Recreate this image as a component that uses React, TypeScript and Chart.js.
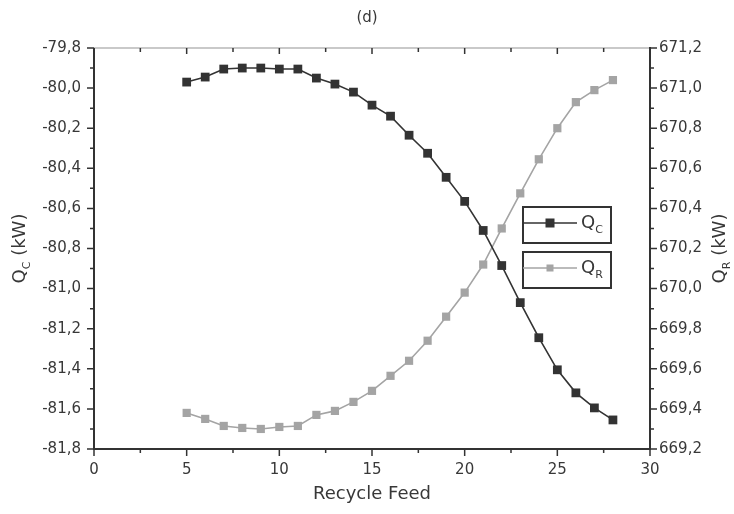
import React, { useEffect, useRef } from 'react';
import { Chart, registerables } from 'chart.js';
Chart.register(...registerables);

const recycleFeed = [5, 6, 7, 8, 9, 10, 11, 12, 13, 14, 15, 16, 17, 18, 19, 20, 21, 22, 23, 24, 25, 26, 27, 28];
const qC = [-79.97, -79.945, -79.905, -79.9, -79.9, -79.905, -79.905, -79.95, -79.98, -80.02, -80.085, -80.14, -80.235, -80.325, -80.445, -80.565, -80.71, -80.885, -81.07, -81.245, -81.405, -81.52, -81.595, -81.655];
const qR = [669.38, 669.35, 669.315, 669.305, 669.3, 669.31, 669.315, 669.37, 669.39, 669.435, 669.49, 669.565, 669.64, 669.74, 669.86, 669.98, 670.12, 670.3, 670.475, 670.645, 670.8, 670.93, 670.99, 671.04];

const xTickLabels = ['0', '5', '10', '15', '20', '25', '30'];
const leftTickLabels = ['-81,8', '-81,6', '-81,4', '-81,2', '-81,0', '-80,8', '-80,6', '-80,4', '-80,2', '-80,0', '-79,8'];
const rightTickLabels = ['669,2', '669,4', '669,6', '669,8', '670,0', '670,2', '670,4', '670,6', '670,8', '671,0', '671,2'];

const chartTitle = '(d)';
const xTitle = 'Recycle Feed';
const seriesNames: [string, string][] = [['Q', 'C'], ['Q', 'R']];

const FONT = '"DejaVu Sans", "Liberation Sans", Arial, sans-serif';
const TEXT = '#383838';
const DARK = '#333333';
const LIGHT = '#a4a4a4';

function drawSubText(ctx: CanvasRenderingContext2D, base: string, sub: string, rest: string, x: number, y: number, size: number, align: 'left' | 'center') {
  ctx.textBaseline = 'middle';
  ctx.textAlign = 'left';
  const big = `${size}px ${FONT}`;
  const small = `${Math.round(size * 0.62)}px ${FONT}`;
  ctx.font = big;
  const wb = ctx.measureText(base).width;
  const wr = ctx.measureText(rest).width;
  ctx.font = small;
  const ws = ctx.measureText(sub).width;
  const total = wb + ws + wr;
  const sx = align === 'center' ? x - total / 2 : x;
  ctx.font = big;
  ctx.fillText(base, sx, y);
  ctx.font = small;
  ctx.fillText(sub, sx + wb, y + size * 0.38);
  ctx.font = big;
  ctx.fillText(rest, sx + wb + ws, y);
}

const decorPlugin = {
  id: 'decor',
  afterDraw(chart: any) {
    const ctx: CanvasRenderingContext2D = chart.ctx;
    const a = chart.chartArea;
    const xs = chart.scales.x;
    const yl = chart.scales.y;
    const yr = chart.scales.y2;
    ctx.save();
    ctx.strokeStyle = '#c9c9c9';
    ctx.lineWidth = 2;
    ctx.beginPath();
    ctx.moveTo(a.left, a.top);
    ctx.lineTo(a.right, a.top);
    ctx.stroke();
    ctx.strokeStyle = DARK;
    ctx.lineWidth = 2;
    ctx.beginPath();
    ctx.moveTo(a.left, a.top);
    ctx.lineTo(a.left, a.bottom);
    ctx.lineTo(a.right, a.bottom);
    ctx.lineTo(a.right, a.top - 1);
    ctx.stroke();
    ctx.lineWidth = 1.5;
    ctx.strokeStyle = DARK;
    const xt = xs.ticks.map((t: any) => t.value);
    ctx.beginPath();
    xt.forEach((v: number, i: number) => {
      const p = xs.getPixelForValue(v);
      ctx.moveTo(p, a.bottom); ctx.lineTo(p, a.bottom + 7);
      ctx.moveTo(p, a.top); ctx.lineTo(p, a.top + 6);
      if (i < xt.length - 1) {
        const m = xs.getPixelForValue((v + xt[i + 1]) / 2);
        ctx.moveTo(m, a.bottom); ctx.lineTo(m, a.bottom + 4);
        ctx.moveTo(m, a.top); ctx.lineTo(m, a.top + 4);
      }
    });
    const ylt = yl.ticks.map((t: any) => t.value);
    ylt.forEach((v: number, i: number) => {
      const p = yl.getPixelForValue(v);
      ctx.moveTo(a.left - 7, p); ctx.lineTo(a.left, p);
      if (i < ylt.length - 1) {
        const m = yl.getPixelForValue((v + ylt[i + 1]) / 2);
        ctx.moveTo(a.left - 4, m); ctx.lineTo(a.left, m);
      }
    });
    const yrt = yr.ticks.map((t: any) => t.value);
    yrt.forEach((v: number, i: number) => {
      const p = yr.getPixelForValue(v);
      ctx.moveTo(a.right, p); ctx.lineTo(a.right + 7, p);
      if (i < yrt.length - 1) {
        const m = yr.getPixelForValue((v + yrt[i + 1]) / 2);
        ctx.moveTo(a.right, m); ctx.lineTo(a.right + 4, m);
      }
    });
    ctx.stroke();

    ctx.fillStyle = TEXT;
    ctx.textAlign = 'center';
    ctx.textBaseline = 'middle';
    ctx.font = `15px ${FONT}`;
    ctx.fillText(chartTitle, chart.width / 2, 18);
    ctx.font = `18px ${FONT}`;
    ctx.fillText(xTitle, (a.left + a.right) / 2, 494);

    const midY = (a.top + a.bottom) / 2;
    ctx.save();
    ctx.translate(20, midY);
    ctx.rotate(-Math.PI / 2);
    drawSubText(ctx, seriesNames[0][0], seriesNames[0][1], ' (kW)', 0, 0, 18, 'center');
    ctx.restore();
    ctx.save();
    ctx.translate(720, midY);
    ctx.rotate(-Math.PI / 2);
    drawSubText(ctx, seriesNames[1][0], seriesNames[1][1], ' (kW)', 0, 0, 18, 'center');
    ctx.restore();

    const boxes = [
      { y: 207, color: DARK, size: 9, lw: 1.5 },
      { y: 252, color: LIGHT, size: 7, lw: 1.5 },
    ];
    boxes.forEach((b, i) => {
      const bx = 523, bw = 88, bh = 36;
      ctx.strokeStyle = DARK;
      ctx.lineWidth = 2;
      ctx.strokeRect(bx, b.y, bw, bh);
      const cy = b.y + 16;
      ctx.strokeStyle = b.color;
      ctx.lineWidth = b.lw;
      ctx.beginPath();
      ctx.moveTo(bx, cy);
      ctx.lineTo(bx + 54, cy);
      ctx.stroke();
      ctx.fillStyle = b.color;
      ctx.fillRect(bx + 27 - b.size / 2, cy - b.size / 2, b.size, b.size);
      ctx.fillStyle = TEXT;
      drawSubText(ctx, seriesNames[i][0], seriesNames[i][1], '', bx + 58, cy, 18, 'left');
    });
    ctx.restore();
  },
};

export default function App() {
  const ref = useRef<HTMLCanvasElement | null>(null);
  useEffect(() => {
    if (!ref.current) return;
    const tickFont = { family: FONT, size: 15 };
    const chart = new Chart(ref.current, {
      type: 'scatter',
      data: {
        datasets: [
          {
            label: 'Q_C',
            data: recycleFeed.map((x, i) => ({ x, y: qC[i] })),
            yAxisID: 'y',
            showLine: true,
            borderColor: DARK,
            backgroundColor: DARK,
            pointBackgroundColor: DARK,
            pointBorderColor: DARK,
            pointStyle: 'rect',
            pointRadius: 6.2,
            pointBorderWidth: 0,
            borderWidth: 1.6,
          },
          {
            label: 'Q_R',
            data: recycleFeed.map((x, i) => ({ x, y: qR[i] })),
            yAxisID: 'y2',
            showLine: true,
            borderColor: LIGHT,
            backgroundColor: LIGHT,
            pointBackgroundColor: LIGHT,
            pointBorderColor: LIGHT,
            pointStyle: 'rect',
            pointRadius: 5.8,
            pointBorderWidth: 0,
            borderWidth: 1.6,
          },
        ],
      },
      options: {
        responsive: false,
        animation: false,
        layout: { padding: { top: 48, left: 0, right: 0, bottom: 0 } },
        plugins: { legend: { display: false }, tooltip: { enabled: false }, title: { display: false } },
        scales: {
          x: {
            type: 'linear',
            min: 0,
            max: 30,
            grid: { display: false, drawTicks: false },
            border: { display: false },
            ticks: {
              stepSize: 5,
              padding: 12,
              color: TEXT,
              font: tickFont,
              maxRotation: 0,
              callback: (_v: any, i: number) => xTickLabels[i],
            },
            afterFit: (s: any) => { s.height = 65; },
          },
          y: {
            type: 'linear',
            position: 'left',
            min: -81.8,
            max: -79.8,
            grid: { display: false, drawTicks: false },
            border: { display: false },
            ticks: {
              stepSize: 0.2,
              padding: 13,
              color: TEXT,
              font: tickFont,
              callback: (_v: any, i: number) => leftTickLabels[i],
            },
            afterFit: (s: any) => { s.width = 94; },
          },
          y2: {
            type: 'linear',
            position: 'right',
            min: 669.2,
            max: 671.2,
            grid: { display: false, drawTicks: false },
            border: { display: false },
            ticks: {
              stepSize: 0.2,
              padding: 9,
              color: TEXT,
              font: tickFont,
              callback: (_v: any, i: number) => rightTickLabels[i],
            },
            afterFit: (s: any) => { s.width = 84; },
          },
        },
      },
      plugins: [decorPlugin],
    } as any);
    return () => chart.destroy();
  }, []);
  return (
    <div style={{ position: 'fixed', left: 0, top: 0, width: 734, height: 514, background: '#fff' }}>
      <canvas ref={ref} width={734} height={514} style={{ display: 'block' }} />
    </div>
  );
}
